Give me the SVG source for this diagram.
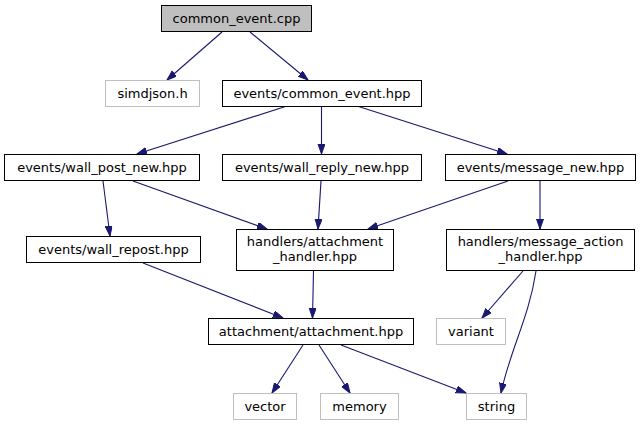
<svg xmlns="http://www.w3.org/2000/svg" width="641" height="425" viewBox="0 0 641 425">
<style>
.n rect{fill:#ffffff;stroke:#000000;stroke-width:1}
.g rect{fill:#ffffff;stroke:#bfbfbf;stroke-width:1}
text{font-family:"DejaVu Sans",sans-serif;font-size:13px;fill:#000000;text-anchor:middle}
.e path{fill:none;stroke:#191970;stroke-width:1.1;marker-end:url(#ah)}
</style>
<defs>
<marker id="ah" markerUnits="userSpaceOnUse" markerWidth="11" markerHeight="8" refX="10" refY="3.5" orient="auto">
<path d="M0,0 L10,3.5 L0,7 Z" fill="#191970" stroke="#191970" stroke-width="1"/>
</marker>
</defs>
<rect width="641" height="425" fill="#ffffff"/>
<g class="e" id="edges">
<path d="M222,32 L167,80"/>
<path d="M250,32 L308,80"/>
<path d="M287,106 L137,154"/>
<path d="M321.5,106 L321.5,154"/>
<path d="M357,106 L507,154"/>
<path d="M103,181 L110,236"/>
<path d="M133,181 L267,229"/>
<path d="M321,181 L318,229"/>
<path d="M508,181 L368,229"/>
<path d="M540,181 L540,229"/>
<path d="M143,263 L283,318"/>
<path d="M313.5,271 L312.5,318"/>
<path d="M523,271 L482,318"/>
<path d="M536,271 C529,318 510,350 501,393"/>
<path d="M303,345 L272,393"/>
<path d="M319,345 L350,393"/>
<path d="M341,345 L466,393"/>
</g>
<g id="common_event_cpp"><rect x="161.5" y="5.5" width="150" height="26" fill="#bfbfbf" stroke="#000000"/><text x="236.5" y="23">common_event.cpp</text></g>
<g id="simdjson_h" class="g"><rect x="105.5" y="80.5" width="94" height="26"/><text x="152.5" y="98">simdjson.h</text></g>
<g id="common_event_hpp" class="n"><rect x="222.5" y="80.5" width="199" height="26"/><text x="322" y="98">events/common_event.hpp</text></g>
<g id="wall_post_new" class="n"><rect x="4.5" y="154.5" width="195" height="26"/><text x="102" y="172">events/wall_post_new.hpp</text></g>
<g id="wall_reply_new" class="n"><rect x="222.5" y="154.5" width="199" height="26"/><text x="322" y="172">events/wall_reply_new.hpp</text></g>
<g id="message_new" class="n"><rect x="445.5" y="154.5" width="190" height="26"/><text x="540.5" y="172">events/message_new.hpp</text></g>
<g id="wall_repost" class="n"><rect x="26.5" y="236.5" width="174" height="26"/><text x="113.5" y="254">events/wall_repost.hpp</text></g>
<g id="attachment_handler" class="n"><rect x="236.5" y="229.5" width="157" height="41"/><text x="315" y="246">handlers/attachment</text><text x="315" y="261">_handler.hpp</text></g>
<g id="message_action_handler" class="n"><rect x="446.5" y="229.5" width="188" height="41"/><text x="540.5" y="246">handlers/message_action</text><text x="540.5" y="261">_handler.hpp</text></g>
<g id="attachment_hpp" class="n"><rect x="208.5" y="318.5" width="205" height="26"/><text x="311" y="336">attachment/attachment.hpp</text></g>
<g id="variant" class="g"><rect x="436.5" y="318.5" width="69" height="26"/><text x="471" y="336">variant</text></g>
<g id="vector" class="g"><rect x="233.5" y="393.5" width="63" height="26"/><text x="265" y="411">vector</text></g>
<g id="memory" class="g"><rect x="320.5" y="393.5" width="78" height="26"/><text x="359.5" y="411">memory</text></g>
<g id="string" class="g"><rect x="466.5" y="393.5" width="60" height="26"/><text x="496.5" y="411">string</text></g>
</svg>
